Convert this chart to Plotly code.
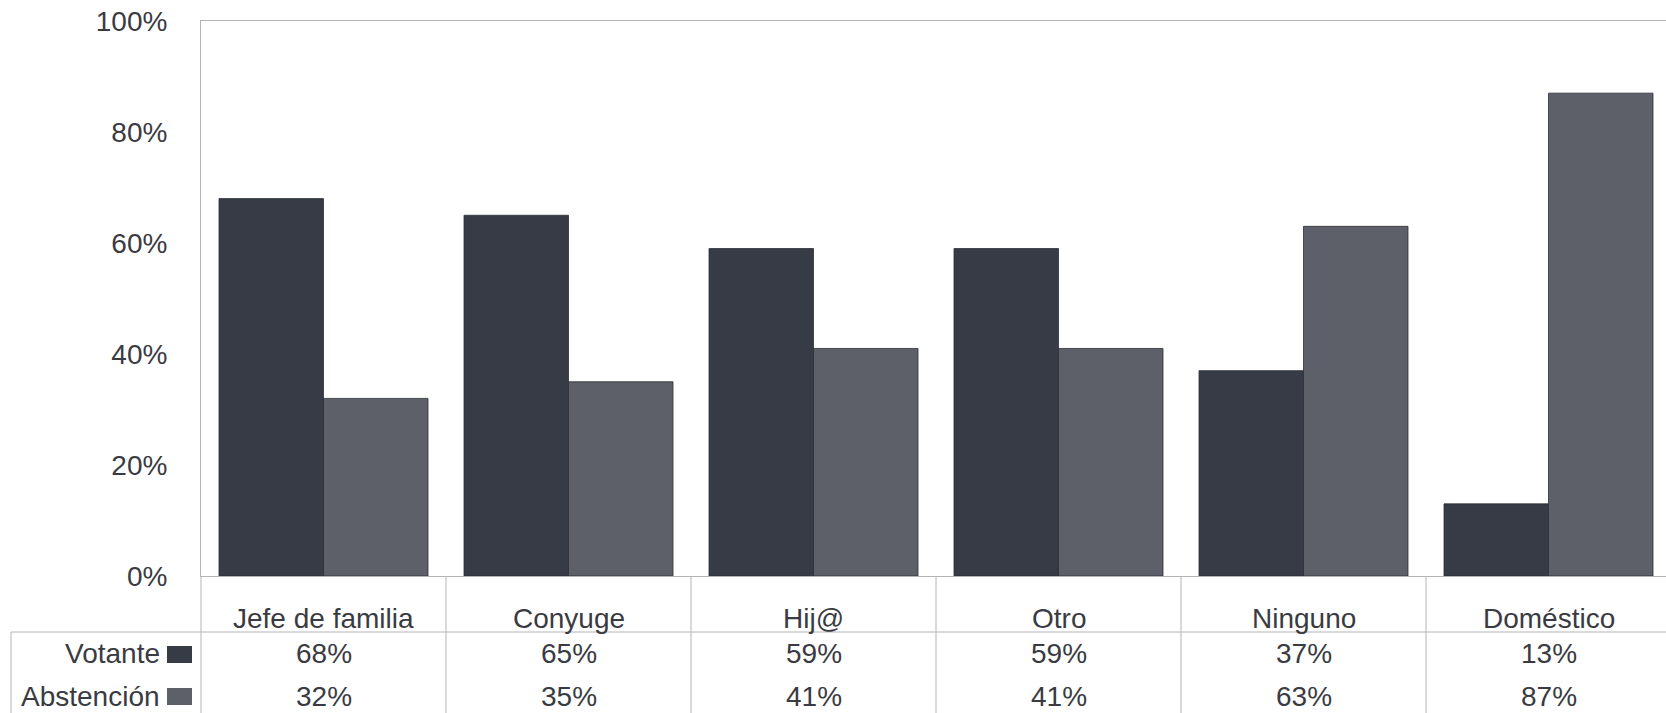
import plotly.graph_objects as go

categories = ["Jefe de familia", "Conyuge", "Hij@", "Otro", "Ninguno", "Doméstico"]
votante = [68, 65, 59, 59, 37, 13]
abstencion = [32, 35, 41, 41, 63, 87]
series_names = ["Votante", "Abstención"]
series_colors = ["#373b46", "#5d6068"]
y_tickvals = [0, 20, 40, 60, 80, 100]
y_ticktext = ["0%", "20%", "40%", "60%", "80%", "100%"]

W, H = 1666, 713
L, T = 201, 21
B_PX = 576  # pixel of 0%
plot_h = B_PX - T
plot_w = W - L
cat_w = 245.0

def py(p):  # pixel y -> paper y
    return (B_PX - p) / plot_h

def px(p):  # pixel x -> paper x
    return (p - L) / plot_w

FONT = "Liberation Sans, Arial, sans-serif"
TXT = "#3a3b42"
LINE = "#b4b4b8"
FS = 28

xs = list(range(len(categories)))
fig = go.Figure()
for name, vals, col in zip(series_names, [votante, abstencion], series_colors):
    fig.add_trace(go.Bar(
        x=xs, y=vals, name=name,
        marker=dict(color=col, line=dict(color="#2b2e36", width=0.8)),
        showlegend=False,
    ))

x_max = -0.5 + plot_w / cat_w

fig.update_layout(
    width=W, height=H,
    margin=dict(l=L, r=0, t=T, b=H - B_PX),
    paper_bgcolor="white", plot_bgcolor="white",
    barmode="group", bargap=36 / 245, bargroupgap=0,
    font=dict(family=FONT, size=FS, color=TXT),
    xaxis=dict(range=[-0.5, x_max], showticklabels=False, showgrid=False,
               zeroline=False, showline=True, linecolor=LINE, linewidth=1,
               mirror=True, ticks=""),
    yaxis=dict(range=[0, 100], tickvals=y_tickvals, ticktext=y_ticktext,
               showgrid=False, zeroline=False, showline=True, linecolor=LINE,
               linewidth=1, ticks="", ticklabelstandoff=27,
               tickfont=dict(family=FONT, size=FS, color=TXT)),
)

shapes = []
annotations = []
bottom = py(H + 5)
for i in range(1, len(categories)):
    shapes.append(dict(type="line", xref="x", yref="paper", x0=i - 0.5, x1=i - 0.5,
                       y0=0, y1=bottom, line=dict(color=LINE, width=1)))
shapes.append(dict(type="line", xref="paper", yref="paper", x0=0, x1=0,
                   y0=0, y1=bottom, line=dict(color=LINE, width=1)))
shapes.append(dict(type="line", xref="paper", yref="paper", x0=px(11), x1=px(11),
                   y0=py(632), y1=bottom, line=dict(color=LINE, width=1)))
shapes.append(dict(type="line", xref="paper", yref="paper", x0=px(11), x1=1.0,
                   y0=py(632), y1=py(632), line=dict(color=LINE, width=1)))

for i, c in enumerate(categories):
    annotations.append(dict(x=i, xref="x", y=py(618), yref="paper", text=c,
                            showarrow=False, xanchor="center", yanchor="middle",
                            font=dict(family=FONT, size=FS, color=TXT)))

row_y = [654, 696]
key_y = [(646, 663), (688, 705)]
for name, vals, col, ry, ky in zip(series_names, [votante, abstencion], series_colors, row_y, key_y):
    annotations.append(dict(x=px(162), xref="paper", y=py(ry), yref="paper", text=name,
                            showarrow=False, xanchor="right", yanchor="middle",
                            font=dict(family=FONT, size=FS, color=TXT)))
    shapes.append(dict(type="rect", xref="paper", yref="paper", x0=px(167), x1=px(192),
                       y0=py(ky[1]), y1=py(ky[0]), fillcolor=col,
                       line=dict(color=col, width=0)))
    for i, v in enumerate(vals):
        annotations.append(dict(x=i, xref="x", y=py(ry), yref="paper", text=f"{v}%",
                                showarrow=False, xanchor="center", yanchor="middle",
                                font=dict(family=FONT, size=FS, color=TXT)))

fig.update_layout(shapes=shapes, annotations=annotations)
fig.write_html(
    "out.html",
    config={"displayModeBar": False},
    post_script="document.body.style.margin='0';document.body.style.overflow='hidden';",
)
